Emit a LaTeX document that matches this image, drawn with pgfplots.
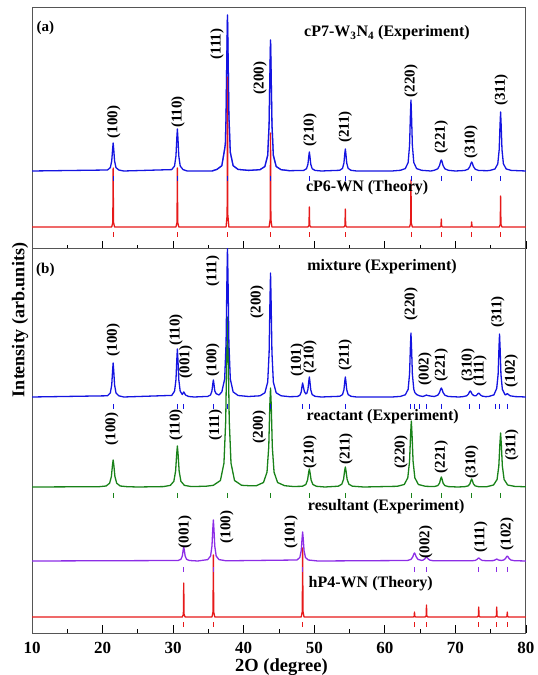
\documentclass[border=0pt]{standalone}
\usepackage{fontspec}
\setmainfont{Liberation Serif}
\usepackage{pgfplots}
\pgfplotsset{compat=1.18}
\definecolor{cblue}{RGB}{20,20,225}
\definecolor{cred}{RGB}{230,25,25}
\definecolor{cgreen}{RGB}{25,130,25}
\definecolor{cpurple}{RGB}{140,45,230}
\definecolor{cframe}{RGB}{85,85,85}
\tikzset{
  peak/.style={rotate=90, font=\fontsize{15}{15}\selectfont\bfseries, inner sep=0pt},
  ser/.style={font=\fontsize{16}{16}\selectfont\bfseries, inner sep=0pt},
  pkmark/.style={only marks, mark=|, mark size=2.5pt, mark options={line width=0.9pt}},
}
\pgfplotsset{panel/.style={
  scale only axis, width=494pt, xmin=10, xmax=80, ymin=0,
  axis line style={cframe, line width=1pt},
  xtick={10,20,...,80}, minor x tick num=1,
  xtick pos=left, tick align=inside, ytick=\empty,
  major tick length=8pt, minor tick length=4pt,
  every tick/.style={black, line width=0.9pt},
  /pgf/number format/assume math mode=true,
  xticklabel style={font=\fontsize{17}{17}\selectfont\bfseries, anchor=center, yshift=-15pt},
  every axis plot/.append style={line width=1.3pt, line join=round},
}}
\begin{document}
\begin{tikzpicture}
\path[use as bounding box] (0,0) rectangle (538pt,675pt);
% ---------------- panel (a) ----------------
\begin{axis}[panel, at={(32pt,426pt)}, anchor=south west, height=241pt, ymax=241, xticklabel=\empty]
\addplot[cblue] coordinates {(10,78)(20.7,79.0)(21.1,81.4)(21.3,88.1)(21.42,99.8)(21.5,106)(21.58,99.8)(21.7,88.1)(21.9,81.4)(22.3,79.0)(23,78)
(29.8,79.4)(30.2,83.0)(30.4,93.1)(30.52,110.8)(30.6,120)(30.68,110.8)(30.8,93.1)(31.0,83.0)(31.4,79.4)(32,78)(35.5,78)
(36.2,79.6)(36.9,83.3)(37.3,100)(37.4,105)(37.5,134.2)(37.62,199.7)(37.7,234)(37.78,199.7)(37.9,134.2)(38.1,96.7)(38.5,83.3)(39.2,79.6)(40.7,78.6)
(42.3,79.3)(43.0,82.5)(43.4,93.7)(43.6,125.2)(43.72,180.2)(43.8,209)(43.88,180.2)(44.0,125.2)(44.2,93.7)(44.6,82.5)(45.3,79.3)(46.5,78.3)
(48.5,78.6)(48.9,80.3)(49.1,84.8)(49.22,92.8)(49.3,97)(49.38,92.8)(49.5,84.8)(49.7,80.3)(50.1,78.6)(51,78)
(53.6,78.7)(54.0,80.6)(54.2,85.9)(54.32,95.2)(54.4,100)(54.48,95.2)(54.6,85.9)(54.8,80.6)(55.2,78.7)(56,78)
(61,78)(62.2,78.7)(62.9,80.4)(63.3,86.5)(63.5,103.6)(63.62,133.4)(63.7,149)(63.78,133.4)(63.9,103.6)(64.1,86.5)(64.5,80.4)(65.2,78.7)(66.5,78)
(67.0,78.7)(67.5,80.2)(67.75,83.5)(67.9,87.5)(68.0,89)(68.1,87.5)(68.25,83.5)(68.5,80.2)(69.0,78.7)(70,78)
(71.3,78.5)(71.8,79.8)(72.05,82.5)(72.2,85.7)(72.3,87)(72.4,85.7)(72.55,82.5)(72.8,79.8)(73.3,78.5)(74.5,78.3)
(74.9,78.6)(75.6,80)(76.0,85.1)(76.2,99.2)(76.32,124)(76.4,137)(76.48,124)(76.6,99.2)(76.8,85.1)(77.2,80)(77.9,78.6)(80,78)};
\addplot[cred] coordinates {(10,22)(21.3,22)(21.45,26.7)(21.5,81)(21.55,26.7)(21.7,22)
(30.4,22)(30.55,26.7)(30.6,81)(30.65,26.7)(30.8,22)
(37.5,22)(37.65,34)(37.7,172)(37.75,34)(37.9,22)
(43.6,22)(43.75,29.5)(43.8,116)(43.85,29.5)(44.0,22)
(49.1,22)(49.25,23.6)(49.3,42)(49.35,23.6)(49.5,22)
(54.2,22)(54.35,23.4)(54.4,40)(54.45,23.4)(54.6,22)
(63.5,22)(63.65,25.8)(63.7,69)(63.75,25.8)(63.9,22)
(67.8,22)(67.95,22.6)(68.0,30)(68.05,22.6)(68.2,22)
(72.1,22)(72.25,22.4)(72.3,27)(72.35,22.4)(72.5,22)
(76.2,22)(76.35,24.5)(76.4,53)(76.45,24.5)(76.6,22)(80,22)};
\addplot[cblue, opacity=0.5] coordinates {(35.5,78)(36.2,79.6)(36.9,83.3)(37.3,100)(37.4,105)(37.5,134.2)(37.62,199.7)(37.7,234)(37.78,199.7)(37.9,134.2)(38.1,96.7)(38.5,83.3)(39.2,79.6)(40.7,78.6)
(42.3,79.3)(43.0,82.5)(43.4,93.7)(43.6,125.2)(43.72,180.2)(43.8,209)(43.88,180.2)(44.0,125.2)(44.2,93.7)(44.6,82.5)(45.3,79.3)(46.5,78.3)};
\addplot[pkmark, cblue] coordinates {(21.5,70.5)(30.6,70.5)(37.7,70.5)(43.8,70.5)(49.3,70.5)(54.4,70.5)(63.7,70.5)(68.0,70.5)(72.3,70.5)(76.4,70.5)};
\addplot[pkmark, cred] coordinates {(21.5,14)(30.6,14)(37.7,14)(43.8,14)(49.3,14)(54.4,14)(63.7,14)(68.0,14)(72.3,14)(76.4,14)};
\node[peak] at (axis cs:21.6,127) {(100)};
\node[peak] at (axis cs:30.7,137) {(110)};
\node[peak] at (axis cs:36.2,205) {(111)};
\node[peak] at (axis cs:42.3,171) {(200)};
\node[peak] at (axis cs:49.4,119) {(210)};
\node[peak] at (axis cs:54.4,122) {(211)};
\node[peak] at (axis cs:63.7,168) {(220)};
\node[peak] at (axis cs:68.0,112) {(221)};
\node[peak] at (axis cs:72.2,107) {(310)};
\node[peak] at (axis cs:76.5,159) {(311)};
\node[ser] at (axis cs:60.3,216) {cP7-W\textsubscript{3}N\textsubscript{4} (Experiment)};
\node[ser] at (axis cs:57.5,61) {cP6-WN (Theory)};
\node[font=\fontsize{15}{15}\selectfont\bfseries, inner sep=0pt] at (axis cs:11.9,221) {(a)};
\end{axis}
% ---------------- panel (b) ----------------
\begin{axis}[panel, at={(32pt,42pt)}, anchor=south west, height=384pt, ymax=384,
  xlabel={2O (degree)},
  xlabel style={font=\fontsize{18.5}{18.5}\selectfont\bfseries, at={(axis description cs:0.505,0)}, anchor=center, yshift=-34pt},
  every outer x axis line/.append style={black}]
\addplot[cgreen] coordinates {(10,146)(19.5,146.3)(20.5,147)(21.0,149.8)(21.25,156.5)(21.4,167.6)(21.5,173)(21.6,167.6)(21.75,156.5)(22.0,149.8)(22.5,147)(23.5,146.3)(25,146)
(28.6,146.4)(29.6,147.6)(30.1,151.7)(30.35,162)(30.5,178.8)(30.6,187)(30.7,178.8)(30.85,162)(31.1,151.7)(31.6,147.6)(32.6,146.4)
(34.7,146.8)(35.7,147.7)(36.7,152.5)(37.2,169.8)(37.45,212.3)(37.6,282)(37.7,316)(37.8,282)(37.95,212.3)(38.2,169.8)(38.7,152.5)(39.7,147.7)(40.75,147.3)
(41.8,147.3)(42.8,150.5)(43.3,160.8)(43.55,186.3)(43.7,228)(43.8,245)(43.9,228)(44.05,186.3)(44.3,160.8)(44.8,150.5)(45.8,147.3)(47,146.5)
(48.3,146.7)(48.8,148.5)(49.05,153)(49.2,160.4)(49.3,164)(49.4,160.4)(49.55,153)(49.8,148.5)(50.3,146.7)(51.5,146)
(53.4,146.8)(53.9,148.8)(54.15,153.8)(54.3,162)(54.4,166)(54.5,162)(54.65,153.8)(54.9,148.8)(55.4,146.8)(57,146)
(61.75,146.7)(62.75,148.5)(63.25,155.2)(63.5,171.7)(63.65,198.8)(63.75,212)(63.85,198.8)(64.0,171.7)(64.25,155.2)(64.75,148.5)(65.75,146.7)
(67.0,146.4)(67.5,147.4)(67.75,149.9)(67.9,154)(68.0,156)(68.1,154)(68.25,149.9)(68.5,147.4)(69.0,146.4)(70.3,146)
(71.3,146.3)(71.8,147.1)(72.05,149.1)(72.2,152.4)(72.3,154)(72.4,152.4)(72.55,149.1)(72.8,147.1)(73.3,146.3)(74.4,146.2)
(75.4,148.0)(75.9,153.5)(76.15,167)(76.3,189)(76.4,200)(76.5,189)(76.65,167)(76.9,153.5)(77.4,148.0)(78.4,146.6)(80,146.2)};
\addplot[cblue] coordinates {(10,236)(20.7,237.2)(21.1,240.1)(21.3,248.2)(21.42,262.5)(21.5,270)(21.58,262.5)(21.7,248.2)(21.9,240.1)(22.3,237.2)(23,236)
(29.8,237.6)(30.2,241.8)(30.4,253.3)(30.52,273.4)(30.6,284)(30.68,273.4)(30.8,253.3)(31.0,241.8)(31.3,238.5)(31.42,240)(31.5,241)(31.6,240)(31.75,238)(32.2,236.5)(33,236)
(34.9,236.6)(35.3,238)(35.5,242.1)(35.62,249.3)(35.7,253)(35.78,249.3)(35.9,242.1)(36.1,239.3)(36.5,238)(36.9,241.1)(37.3,254)(37.5,290)(37.62,353)(37.7,386)(37.78,353)(37.9,290)(38.1,254)(38.5,241.1)(39.2,237.5)(40.7,236.5)
(42.3,237.2)(43.0,240.2)(43.4,250.9)(43.6,280.6)(43.72,332.7)(43.8,360)(43.88,332.7)(44.0,280.6)(44.2,250.9)(44.6,240.2)(45.3,237.2)(46.5,236.3)
(47.6,236.5)(47.95,237.7)(48.15,241)(48.27,247)(48.35,250)(48.43,247)(48.6,241.5)(48.8,239.1)(48.95,239.9)(49.1,243.7)(49.22,251.6)(49.3,256)(49.38,251.6)(49.5,243.2)(49.7,238.4)(50.1,236.7)(51,236)
(53.6,236.7)(54.0,238.4)(54.2,243.2)(54.32,251.6)(54.4,256)(54.48,251.6)(54.6,243.2)(54.8,238.4)(55.2,236.7)(56,236)
(61,236)(62.2,236.6)(62.9,238.2)(63.3,243.7)(63.5,259)(63.62,286)(63.7,300)(63.78,286)(63.9,259)(64.1,243.7)(64.25,240.5)(64.5,238.5)(64.9,237.2)(65.4,236.5)(65.75,237.5)(65.9,238)(66.05,237.5)(66.6,236.8)
(67.0,236.5)(67.5,237.8)(67.75,240.5)(67.9,243.7)(68.0,245)(68.1,243.7)(68.25,240.5)(68.5,237.8)(69.0,236.5)(70.5,236)
(71.1,236.4)(71.6,237.2)(71.85,239)(72.0,241.2)(72.1,242)(72.2,241.2)(72.35,239)(72.6,237.4)(72.9,237.2)(73.05,238.2)(73.2,239.4)(73.3,240)(73.4,239.4)(73.55,238)(73.8,236.9)(74.3,236.3)
(74.75,236.6)(75.45,238.1)(75.85,244.6)(76.05,258.7)(76.17,285.1)(76.25,299)(76.33,285.1)(76.45,258.7)(76.65,243.6)(77.05,238.1)(77.2,238.5)(77.35,239.5)(77.5,238.5)(77.75,237.2)(78.5,236.4)(80,236)};
\addplot[cred] coordinates {(10,16)(31.3,16)(31.45,18.7)(31.5,50)(31.55,18.7)(31.7,16)
(35.5,16)(35.65,21)(35.7,78)(35.75,21)(35.9,16)
(48.15,16)(48.3,21.5)(48.35,85)(48.4,21.5)(48.55,16)
(64.0,16)(64.15,16.4)(64.2,21)(64.25,16.4)(64.4,16)
(65.7,16)(65.85,17)(65.9,28)(65.95,17)(66.1,16)
(73.1,16)(73.25,16.8)(73.3,26)(73.35,16.8)(73.5,16)
(75.65,16)(75.8,16.8)(75.85,26)(75.9,16.8)(76.05,16)
(77.15,16)(77.3,16.4)(77.35,21)(77.4,16.4)(77.55,16)(80,16)};
\addplot[cpurple] coordinates {(10,72)(30.7,72.5)(31.1,73.7)(31.3,77)(31.42,82.9)(31.5,86)(31.58,82.9)(31.7,77)(31.9,73.7)(32.3,72.5)(33.5,72)
(34.9,73.4)(35.3,76.9)(35.5,86.8)(35.62,104)(35.7,113)(35.78,104)(35.9,86.8)(36.1,76.9)(36.5,73.4)(37.5,72.2)
(47.55,73)(47.95,75.5)(48.15,82.4)(48.27,94.6)(48.35,101)(48.43,94.6)(48.55,82.4)(48.75,75.5)(49.15,73)(50.5,72)
(63.2,72.5)(63.7,73.6)(63.95,76)(64.1,78.9)(64.2,80)(64.3,78.9)(64.45,76)(64.7,73.6)(65.2,72.6)(65.4,72.9)(65.65,74)(65.8,75.4)(65.9,76)(66.0,75.4)(66.15,74)(66.4,72.8)(66.9,72.2)(72.3,72.2)
(72.8,72.6)(73.05,73.5)(73.2,74.6)(73.3,75)(73.4,74.6)(73.55,73.5)(73.8,72.6)(74.5,72.2)
(75.35,72.4)(75.6,73)(75.85,74)(76.1,73)(76.5,72.5)(76.85,73)(77.1,74.5)(77.25,76.3)(77.35,77)(77.45,76.3)(77.6,74.5)(77.85,73)(78.35,72.3)(80,72)};
\addplot[pkmark, cblue] coordinates {(21.5,226.5)(30.6,226.5)(31.5,226.5)(35.7,226.5)(37.7,226.5)(43.8,226.5)(48.35,226.5)(49.3,226.5)(54.4,226.5)(63.65,226.5)(64.2,226.5)(64.95,226.5)(65.9,226.5)(68.0,226.5)(72.05,226.5)(73.35,226.5)(75.65,226.5)(76.25,226.5)(77.35,226.5)};
\addplot[pkmark, cgreen] coordinates {(21.5,137.5)(30.6,137.5)(37.7,137.5)(43.8,137.5)(49.3,137.5)(54.4,137.5)(63.75,137.5)(68.0,137.5)(72.3,137.5)(76.4,137.5)};
\addplot[pkmark, cpurple] coordinates {(31.5,63.5)(35.7,63.5)(48.35,63.5)(64.2,63.5)(65.9,63.5)(73.3,63.5)(75.85,63.5)(77.35,63.5)};
\addplot[pkmark, cred] coordinates {(31.5,8.5)(35.7,8.5)(48.35,8.5)(64.2,8.5)(65.9,8.5)(73.3,8.5)(75.85,8.5)(77.35,8.5)};
% mixture labels
\node[peak] at (axis cs:21.5,293) {(100)};
\node[peak] at (axis cs:30.4,303) {(110)};
\node[peak] at (axis cs:31.8,271) {(001)};
\node[peak] at (axis cs:35.6,273) {(100)};
\node[peak] at (axis cs:35.6,362) {(111)};
\node[peak] at (axis cs:41.9,331) {(200)};
\node[peak] at (axis cs:47.6,273) {(101)};
\node[peak] at (axis cs:49.4,276) {(210)};
\node[peak] at (axis cs:54.4,278) {(211)};
\node[peak] at (axis cs:63.7,329) {(220)};
\node[peak] at (axis cs:65.7,264) {(002)};
\node[peak] at (axis cs:68.0,268) {(221)};
\node[peak] at (axis cs:71.8,268) {(310)};
\node[peak] at (axis cs:73.5,262) {(111)};
\node[peak] at (axis cs:76.0,321) {(311)};
\node[peak] at (axis cs:77.9,262) {(102)};
% reactant labels
\node[peak] at (axis cs:21.3,204) {(100)};
\node[peak] at (axis cs:30.4,208) {(110)};
\node[peak] at (axis cs:36.0,208) {(111)};
\node[peak] at (axis cs:42.2,206) {(200)};
\node[peak] at (axis cs:49.4,181) {(210)};
\node[peak] at (axis cs:54.5,184) {(211)};
\node[peak] at (axis cs:62.3,181) {(220)};
\node[peak] at (axis cs:68.0,176) {(221)};
\node[peak] at (axis cs:72.3,171) {(310)};
\node[peak] at (axis cs:78.0,188) {(311)};
% resultant labels
\node[peak] at (axis cs:31.7,101) {(001)};
\node[peak] at (axis cs:37.6,106) {(100)};
\node[peak] at (axis cs:46.7,101) {(101)};
\node[peak] at (axis cs:65.8,91) {(002)};
\node[peak] at (axis cs:73.6,96) {(111)};
\node[peak] at (axis cs:77.3,99) {(102)};
\node[ser] at (axis cs:59.6,366) {mixture (Experiment)};
\node[ser] at (axis cs:59.7,216) {reactant (Experiment)};
\node[ser] at (axis cs:60.2,126) {resultant (Experiment)};
\node[ser] at (axis cs:58.0,49) {hP4-WN (Theory)};
\node[font=\fontsize{15}{15}\selectfont\bfseries, inner sep=0pt] at (axis cs:11.9,363) {(b)};
\end{axis}
\node[rotate=90, font=\fontsize{18}{18}\selectfont\bfseries, inner sep=0pt] at (20pt,355pt) {Intensity (arb.units)};
\end{tikzpicture}
\end{document}
